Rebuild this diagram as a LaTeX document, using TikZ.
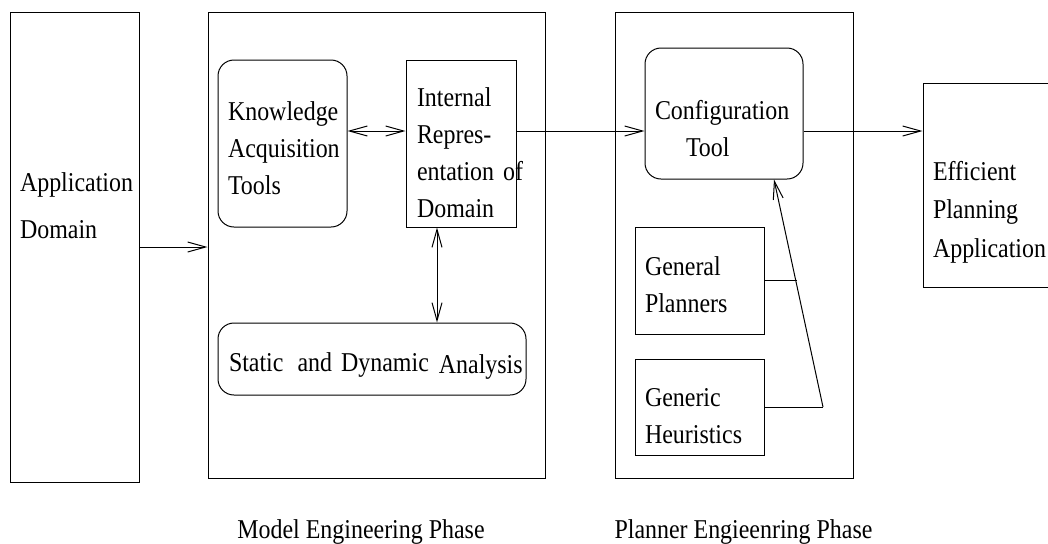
\documentclass[tikz,border=0pt]{standalone}
\usepackage{fontspec}
\setmainfont{Liberation Serif}[FakeStretch=0.88]
\usetikzlibrary{arrows.meta}

\tikzset{
  box/.style={draw, line width=0.5pt, inner xsep=5pt, inner ysep=0pt, align=left,
              text height=8.5pt, font=\fontsize{13.6}{18.5}\selectfont},
  rbox/.style={box, rounded corners=8pt},
  phase/.style={draw, line width=0.5pt, inner sep=0pt},
  txt/.style={inner sep=0pt, font=\fontsize{13.6}{18.5}\selectfont},
  arr/.style={line width=0.5pt, -{Straight Barb[length=9pt,width=5pt]}},
  darr/.style={line width=0.5pt, {Straight Barb[length=9pt,width=5pt]}-{Straight Barb[length=9pt,width=5pt]}},
  wire/.style={line width=0.5pt}
}

\begin{document}
\begin{tikzpicture}[x=0.5pt, y=-0.5pt]
  \useasboundingbox (0,0) rectangle (1048,543);

  % application domain
  \node[box, text width=54.5pt, minimum height=235pt, text depth=64.5pt] (app) at (74.5,247)
    {Application\\[5pt]Domain};

  % model engineering phase
  \node[phase, minimum width=168.5pt, minimum height=233pt] (mep) at (376.5,245) {};
  \node[txt, anchor=base] (mepname) at (361,538) {Model Engineering Phase};
  \node[rbox, text width=54.5pt, minimum height=83.5pt, text depth=32pt] (kat) at (282.5,143.5)
    {Knowledge\\Acquisition\\Tools};
  \node[box, inner xsep=5.5pt, text width=44pt, minimum height=83.5pt, text depth=46pt] (ird) at (461,143.5)
    {Internal\\Repres-\\\mbox{entation of}\\Domain};
  \node[rbox, inner xsep=5.5pt, text width=143pt, minimum height=36pt, text height=12pt, text depth=0pt] (sda) at (372,359)
    {\mbox{Static\hspace{7pt}and Dynamic\hspace{5pt}\raisebox{-1pt}{Analysis}}};

  % planner engineering phase
  \node[phase, minimum width=119pt, minimum height=233pt] (pep) at (734,245) {};
  \node[txt, anchor=base] (pepname) at (743.5,538) {Planner Engieenring Phase};
  \node[rbox, text width=69pt, minimum height=65.5pt, text depth=2.5pt] (cfg) at (724,113.5)
    {Configuration\\\hspace*{15.5pt}Tool};
  \node[box, text width=54.5pt, minimum height=53.5pt, text depth=14pt] (gp) at (699.5,280.5)
    {General\\Planners};
  \node[box, text width=54.5pt, minimum height=48pt, text depth=9.5pt] (gh) at (699.5,407)
    {Generic\\Heuristics};

  % result
  \node[box, text width=58.5pt, minimum height=102pt, text depth=13.5pt] (eff) at (991.5,185)
    {Efficient\\[0.75pt]Planning\\[0.75pt]Application};

  % connectors
  \coordinate (row) at (0,131);
  \coordinate (col) at (437,0);
  \coordinate (feed) at (774,0);
  \coordinate (join) at (823,407);
  \coordinate (tip) at (cfg.south -| feed);

  \draw[arr] (app.east) -- (app.east -| mep.west);
  \draw[darr] (kat.east |- row) -- (ird.west |- row);
  \draw[darr] (ird.south -| col) -- (sda.north -| col);
  \draw[arr] (ird.east |- row) -- (cfg.west |- row);
  \draw[arr] (cfg.east |- row) -- (eff.west |- row);

  \draw[wire] (gh.east) -- (join);
  \path (join) -- (tip) coordinate[pos=0.526] (meet);
  \draw[wire] (gp.east) -- (gp.east -| meet);
  \draw[arr] (join) -- (tip);
\end{tikzpicture}
\end{document}
